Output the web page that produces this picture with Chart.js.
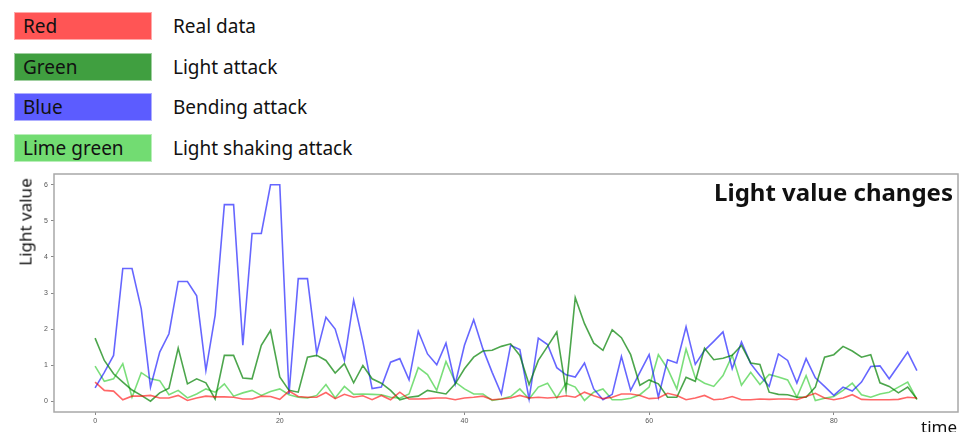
<!DOCTYPE html>
<html lang="en">
<head>
    <meta charset="UTF-8">
    <title>Light value changes</title>
    <script src="https://cdn.jsdelivr.net/npm/chart.js"></script>
    <style>
        body {
            margin: 0;
            width: 965px;
            height: 432px;
            background: white;
            font-family: "Noto Sans", "Open Sans", sans-serif;
            position: relative;
            overflow: hidden;
        }
        .key {
            position: absolute;
            left: 14px;
            width: 138px;
            height: 28px;
            border: 1px solid rgba(255, 255, 255, 0.5);
            box-sizing: border-box;
            font-size: 19px;
            line-height: 26px;
            padding-left: 8px;
            color: #111;
        }
        .key-text {
            position: absolute;
            left: 173px;
            font-size: 19px;
            line-height: 28px;
            color: #111;
        }
        #chart-wrap {
            position: absolute;
            left: 0;
            top: 0;
            width: 965px;
            height: 432px;
        }
        #title {
            position: absolute;
            right: 12px;
            top: 175px;
            font-size: 24px;
            font-weight: bold;
            color: #111;
        }
        #ylabel {
            position: absolute;
            left: 25px;
            top: 222px;
            transform: translate(-50%, -50%) rotate(-90deg);
            font-size: 17px;
            white-space: nowrap;
            color: #111;
        }
        #xlabel {
            position: absolute;
            left: 921px;
            top: 415px;
            font-size: 17px;
            color: #111;
        }
    </style>
</head>
<body>
<div class="key" style="top:12px;background:#ff5555;">Red</div>
<div class="key-text" style="top:12px;">Real data</div>
<div class="key" style="top:53px;background:#409f40;">Green</div>
<div class="key-text" style="top:53px;">Light attack</div>
<div class="key" style="top:93px;background:#5c5cff;">Blue</div>
<div class="key-text" style="top:93px;">Bending attack</div>
<div class="key" style="top:134px;background:#72dc72;">Lime green</div>
<div class="key-text" style="top:134px;">Light shaking attack</div>

<div id="chart-wrap"><canvas id="light-chart"></canvas></div>
<div id="title">Light value changes</div>
<div id="ylabel">Light value</div>
<div id="xlabel">time</div>

<script>
    // values, one per time step (0..89)
    const realData = [
        0.53, 0.30, 0.28, 0.04, 0.14, 0.14, 0.16, 0.09, 0.09, 0.16,
        0.02, 0.09, 0.14, 0.12, 0.12, 0.11, 0.06, 0.06, 0.14, 0.13,
        0.05, 0.28, 0.13, 0.11, 0.11, 0.24, 0.07, 0.19, 0.11, 0.15,
        0.04, 0.16, 0.04, 0.25, 0.06, 0.06, 0.07, 0.09, 0.09, 0.04,
        0.09, 0.11, 0.14, 0.04, 0.06, 0.09, 0.16, 0.09, 0.11, 0.09,
        0.11, 0.15, 0.11, 0.25, 0.15, 0.07, 0.11, 0.20, 0.20, 0.16,
        0.07, 0.09, 0.22, 0.16, 0.04, 0.09, 0.16, 0.04, 0.06, 0.13,
        0.04, 0.04, 0.06, 0.05, 0.06, 0.06, 0.04, 0.13, 0.22, 0.09,
        0.04, 0.09, 0.18, 0.05, 0.04, 0.04, 0.04, 0.05, 0.11, 0.09
    ];
    const lightAttack = [
        1.75, 1.13, 0.76, 0.53, 0.31, 0.16, 0.00, 0.23, 0.36, 1.47,
        0.48, 0.62, 0.51, 0.06, 1.27, 1.27, 0.64, 0.62, 1.55, 1.96,
        0.67, 0.30, 0.25, 1.22, 1.27, 1.13, 0.78, 1.04, 0.51, 0.99,
        0.62, 0.50, 0.30, 0.04, 0.11, 0.14, 0.30, 0.25, 0.20, 0.48,
        0.90, 1.22, 1.39, 1.41, 1.52, 1.59, 1.27, 0.46, 1.13, 1.52,
        1.92, 0.30, 2.87, 2.15, 1.61, 1.41, 1.98, 1.76, 1.29, 0.44,
        0.59, 0.48, 0.11, 0.11, 0.66, 0.55, 1.47, 1.15, 1.19, 1.27,
        1.55, 1.06, 1.02, 0.25, 0.19, 0.18, 0.11, 0.11, 0.39, 1.22,
        1.29, 1.52, 1.39, 1.22, 1.29, 0.51, 0.41, 0.23, 0.39, 0.06
    ];
    const bendingAttack = [
        0.37, 0.80, 1.27, 3.68, 3.68, 2.56, 0.39, 1.36, 1.87, 3.32,
        3.32, 2.92, 0.85, 2.38, 5.45, 5.45, 1.55, 4.65, 4.65, 6.00,
        6.00, 0.20, 3.40, 3.40, 1.33, 2.33, 2.00, 1.13, 2.80, 1.65,
        0.35, 0.39, 1.08, 1.18, 0.59, 1.94, 1.31, 1.01, 1.61, 0.48,
        1.55, 2.26, 1.45, 0.80, 0.20, 1.55, 1.43, 0.06, 1.75, 1.57,
        0.93, 0.73, 0.67, 1.06, 0.34, 0.04, 0.19, 1.24, 0.30, 0.80,
        1.29, 0.11, 1.15, 1.06, 2.06, 1.02, 1.41, 1.66, 1.92, 0.90,
        1.64, 1.04, 0.71, 0.41, 1.31, 1.13, 0.50, 1.18, 0.65, 0.41,
        0.16, 0.39, 0.28, 0.53, 0.96, 0.98, 0.62, 0.99, 1.36, 0.85
    ];
    const shakingAttack = [
        0.97, 0.55, 0.62, 1.04, 0.11, 0.79, 0.62, 0.57, 0.18, 0.30,
        0.09, 0.20, 0.34, 0.25, 0.48, 0.14, 0.23, 0.30, 0.16, 0.27,
        0.34, 0.18, 0.11, 0.09, 0.16, 0.46, 0.09, 0.41, 0.19, 0.20,
        0.19, 0.18, 0.11, 0.08, 0.20, 0.93, 0.74, 0.30, 1.10, 0.53,
        0.34, 0.20, 0.20, 0.02, 0.06, 0.13, 0.34, 0.06, 0.39, 0.50,
        0.09, 0.50, 0.39, 0.02, 0.25, 0.34, 0.04, 0.04, 0.08, 0.18,
        0.39, 1.29, 0.90, 0.34, 1.45, 0.65, 0.50, 0.41, 0.71, 1.27,
        0.44, 0.80, 0.46, 0.74, 0.67, 0.59, 0.11, 0.71, 0.02, 0.08,
        0.13, 0.30, 0.50, 0.18, 0.11, 0.20, 0.25, 0.39, 0.53, 0.04
    ];
    const timeSteps = realData.map((v, i) => i);
    const yTicks = [0, 1, 2, 3, 4, 5, 6];
    const xTicks = [0, 20, 40, 60, 80];

    // box around the plot, like matplotlib's spines
    const frame = {
        id: 'frame',
        afterDraw(chart) {
            const a = chart.chartArea;
            const ctx = chart.ctx;
            ctx.save();
            ctx.strokeStyle = '#a8a8a8';
            ctx.lineWidth = 1.5;
            ctx.strokeRect(a.left, a.top, a.right - a.left, a.bottom - a.top);
            ctx.restore();
        }
    };

    function line(data, color) {
        return {
            data: data,
            borderColor: color,
            borderWidth: 1.6,
            pointRadius: 0,
            tension: 0,
            fill: false
        };
    }

    const ctx = document.getElementById('light-chart').getContext('2d');
    new Chart(ctx, {
        type: 'line',
        data: {
            labels: timeSteps,
            datasets: [
                line(realData, 'rgba(255, 0, 0, 0.6)'),
                line(lightAttack, 'rgba(0, 128, 0, 0.7)'),
                line(bendingAttack, 'rgba(0, 0, 255, 0.6)'),
                line(shakingAttack, 'rgba(50, 205, 50, 0.65)')
            ]
        },
        options: {
            responsive: true,
            maintainAspectRatio: false,
            animation: false,
            layout: { padding: { left: 0, top: 174, right: 7, bottom: 0 } },
            plugins: { legend: { display: false }, tooltip: { enabled: false } },
            scales: {
                x: {
                    type: 'linear',
                    min: -4.45,
                    max: 93.45,
                    afterFit: s => { s.height = 20; },
                    afterBuildTicks: s => { s.ticks = xTicks.map(v => ({ value: v })); },
                    grid: { display: true, drawOnChartArea: false, tickLength: 3, color: '#888' },
                    border: { display: false },
                    ticks: { font: { size: 7 }, color: '#555', padding: 2, maxRotation: 0 }
                },
                y: {
                    min: -0.3,
                    max: 6.3,
                    afterFit: s => { s.width = 54; },
                    afterBuildTicks: s => { s.ticks = yTicks.map(v => ({ value: v })); },
                    grid: { display: true, drawOnChartArea: false, tickLength: 3, color: '#888' },
                    border: { display: false },
                    ticks: { font: { size: 7 }, color: '#555', padding: 3 }
                }
            }
        },
        plugins: [frame]
    });
</script>
</body>
</html>
